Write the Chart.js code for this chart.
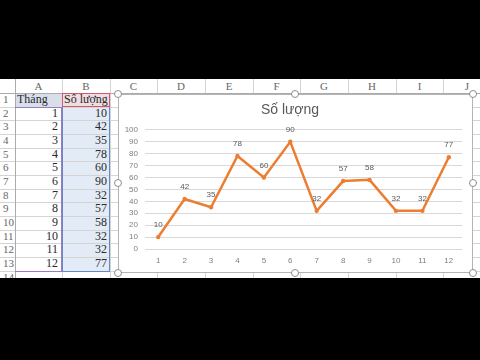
<!DOCTYPE html>
<html>
<head>
<meta charset="utf-8">
<script src="https://cdn.jsdelivr.net/npm/chart.js@4"></script>
<style>
  body { margin: 0; background: #000; width: 480px; height: 360px; overflow: hidden; position: relative; }
  #hoja { position: absolute; left: 0; top: 79px; width: 480px; height: 199px; background: #fff; overflow: hidden; font-family: "Liberation Serif", serif; color: #2a2a2a; }
  .caja { position: absolute; box-sizing: border-box; white-space: nowrap; overflow: hidden; font-size: 12px; }
  .linea { position: absolute; background: #d4d4d4; }
  .asa { position: absolute; width: 8px; height: 8px; border-radius: 50%; border: 1px solid #8c8c8c; background: #fff; box-sizing: border-box; }
  #grafico { position: absolute; left: 118px; top: 15px; width: 355px; height: 179px; background: #fff; }
  #marco { position: absolute; left: 118px; top: 15px; width: 355px; height: 179px; border: 1px solid #b4b4b4; box-sizing: border-box; }
</style>
</head>
<body>
<div id="hoja">
  <div id="grafico"><canvas id="graficoLinea" width="355" height="179"></canvas></div>
  <div id="marco"></div>
</div>
<script>
// Datos de la hoja y del gráfico
const meses = [1, 2, 3, 4, 5, 6, 7, 8, 9, 10, 11, 12];
const cantidades = [10, 42, 35, 78, 60, 90, 32, 57, 58, 32, 32, 77];
const columnas = ["A", "B", "C", "D", "E", "F", "G", "H", "I", "J"];
const encabezados = ["Tháng", "Số lượng"];
const tituloGrafico = "Số lượng";

const hoja = document.getElementById("hoja");
const grafico = document.getElementById("grafico");

// Medidas de la cuadrícula de Excel
const altoEnc = 14;
const altoFila = 13.67;
const colX = [0, 15, 62, 110, 157, 205, 253, 300, 348, 396, 443, 491];

function caja(x, y, w, h, estilo, texto) {
  const d = document.createElement("div");
  d.className = "caja";
  d.style.left = x + "px";
  d.style.top = y + "px";
  d.style.width = w + "px";
  d.style.height = h + "px";
  Object.assign(d.style, estilo || {});
  if (texto !== undefined) d.textContent = texto;
  hoja.insertBefore(d, grafico);
  return d;
}

function linea(x, y, w, h, color) {
  const d = document.createElement("div");
  d.className = "linea";
  d.style.left = x + "px";
  d.style.top = y + "px";
  d.style.width = w + "px";
  d.style.height = h + "px";
  if (color) d.style.background = color;
  hoja.insertBefore(d, grafico);
}

// Relleno de las celdas seleccionadas
caja(colX[1], altoEnc, colX[2] - colX[1], altoFila, { background: "#d9dfea" });
caja(colX[2], altoEnc, colX[3] - colX[2], altoFila, { background: "#efdde2" });
caja(colX[2], altoEnc + altoFila, colX[3] - colX[2], altoFila * 12, { background: "#e3ebf6" });

// Líneas de la cuadrícula
for (let i = 0; i <= 14; i++) {
  linea(0, altoEnc + i * altoFila, 480, 1);
}
for (let j = 1; j < colX.length; j++) {
  linea(colX[j], 0, 1, 199);
}
linea(0, altoEnc, 480, 1, "#ababab");
linea(colX[1], 0, 1, 199, "#ababab");

// Encabezados de columnas
columnas.forEach((c, j) => {
  caja(colX[j + 1], 0, colX[j + 2] - colX[j + 1], altoEnc,
    { textAlign: "center", color: "#666", lineHeight: altoEnc + "px", fontSize: "11px" }, c);
});

// Números de fila
for (let i = 1; i <= 14; i++) {
  caja(1, altoEnc + (i - 1) * altoFila, 14, altoFila,
    { color: "#666", lineHeight: altoFila + "px", fontSize: "11px", paddingLeft: "2px" }, String(i));
}

// Celdas con los datos
caja(colX[1] + 2, altoEnc, colX[2] - colX[1] - 2, altoFila, { lineHeight: altoFila + "px" }, encabezados[0]);
caja(colX[2] + 2, altoEnc, colX[3] - colX[2] - 2, altoFila, { lineHeight: altoFila + "px" }, encabezados[1]);
meses.forEach((m, i) => {
  const y = altoEnc + (i + 1) * altoFila;
  caja(colX[1], y, colX[2] - colX[1] - 4, altoFila, { textAlign: "right", lineHeight: altoFila + "px" }, String(m));
  caja(colX[2], y, colX[3] - colX[2] - 3, altoFila, { textAlign: "right", lineHeight: altoFila + "px" }, String(cantidades[i]));
});

// Bordes de los rangos del gráfico (rojo: nombre, morado: categorías, azul: valores)
const yIni = altoEnc + altoFila;
const yFin = altoEnc + 13 * altoFila;
linea(colX[2], altoEnc, colX[3] - colX[2], 1, "#d25b6a");
linea(colX[2], yIni - 1, colX[3] - colX[2], 1, "#d25b6a");
linea(colX[2], altoEnc, 1, altoFila, "#d25b6a");
linea(colX[3] - 1, altoEnc, 1, altoFila, "#d25b6a");
linea(colX[1], yIni, colX[2] - colX[1], 1, "#9a7cc0");
linea(colX[1], yFin, colX[2] - colX[1], 1, "#9a7cc0");
linea(colX[2] - 1, yIni, 1, yFin - yIni, "#9a7cc0");
linea(colX[2], yIni, 1, yFin - yIni, "#6688c8");
linea(colX[3] - 1, yIni, 1, yFin - yIni, "#6688c8");
linea(colX[2], yFin, colX[3] - colX[2], 1, "#6688c8");

// Asas de selección del gráfico
[[118, 15], [295, 15], [473, 15], [118, 104], [473, 104], [118, 194], [295, 194], [473, 194]].forEach(([x, y]) => {
  const d = document.createElement("div");
  d.className = "asa";
  d.style.left = (x - 4) + "px";
  d.style.top = (y - 4) + "px";
  hoja.appendChild(d);
});

// Etiquetas de datos encima de cada punto
const etiquetasDatos = {
  id: "etiquetasDatos",
  afterDatasetsDraw(chart) {
    const c = chart.ctx;
    const meta = chart.getDatasetMeta(0);
    c.save();
    c.fillStyle = "#595959";
    c.font = "8px 'Liberation Sans'";
    c.textAlign = "center";
    c.textBaseline = "middle";
    meta.data.forEach((p, i) => {
      c.fillText(String(cantidades[i]), p.x, p.y - 12);
    });
    c.restore();
  },
};

const ctx = document.getElementById("graficoLinea").getContext("2d");
new Chart(ctx, {
  type: "line",
  data: {
    labels: meses,
    datasets: [
      {
        data: cantidades,
        borderColor: "#ED7D31",
        backgroundColor: "#ED7D31",
        borderWidth: 2.5,
        pointRadius: 2.2,
        pointBorderWidth: 0,
        tension: 0,
      },
    ],
  },
  options: {
    responsive: false,
    animation: false,
    devicePixelRatio: 1,
    layout: { padding: { left: 0, right: 11, top: 0, bottom: 0 } },
    plugins: {
      legend: { display: false },
      tooltip: { enabled: false },
      title: {
        display: true,
        text: tituloGrafico,
        color: "#595959",
        font: { family: "Liberation Sans", size: 14, weight: "normal" },
        padding: { top: 8, bottom: 11 },
      },
    },
    scales: {
      x: {
        offset: true,
        grid: { display: false, drawTicks: false },
        border: { display: false },
        ticks: { color: "#7f7f7f", font: { family: "Liberation Sans", size: 8 }, padding: 7, maxRotation: 0 },
        afterFit: (s) => { s.height = 24; },
      },
      y: {
        min: 0,
        max: 100,
        ticks: { stepSize: 10, autoSkip: false, color: "#7f7f7f", font: { family: "Liberation Sans", size: 8 }, padding: 7 },
        grid: { color: "#d9d9d9", drawTicks: false },
        border: { display: false },
        afterFit: (s) => { s.width = 27; },
      },
    },
  },
  plugins: [etiquetasDatos],
});
</script>
</body>
</html>
